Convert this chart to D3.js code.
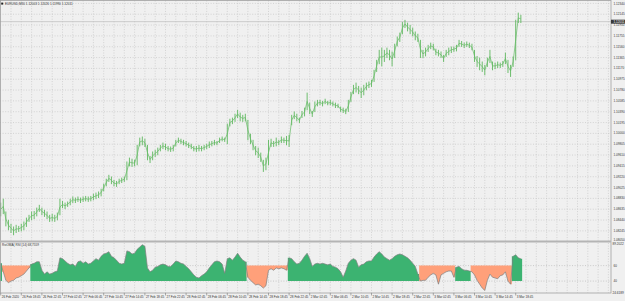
<!DOCTYPE html>
<meta charset="utf-8">
<style>
body { margin: 0; background: #f0f0f0; overflow: hidden; }
text { font-family: "Liberation Sans", Arial, sans-serif; font-size: 3.1px; fill: #333; }
</style>
<body>
<script src="https://cdnjs.cloudflare.com/ajax/libs/d3/7.8.5/d3.min.js"></script>
<script>
// chart data
var symbol = "EURUSD,M30";
var quote = [1.12003, 1.12026, 1.11990, 1.12011];   // title: open high low close
var lastClose = 1.12011;

var highs = [
  1.0875,1.0882,1.0859,1.0844,1.0837,1.0832,1.0835,1.0833,1.0837,1.0841,
  1.0848,1.0853,1.0859,1.0860,1.0866,1.0871,1.0866,1.0862,1.0859,1.0853,
  1.0855,1.0853,1.0857,1.0882,1.0878,1.0875,1.0877,1.0882,1.0886,1.0884,
  1.0886,1.0884,1.0886,1.0887,1.0886,1.0887,1.0891,1.0893,1.0895,1.0900,
  1.0909,1.0918,1.0925,1.0922,1.0916,1.0914,1.0918,1.0920,1.0922,1.0949,
  1.0956,1.0954,1.0952,1.0979,1.0992,1.0994,1.0990,1.0979,1.0959,1.0967,
  1.0970,1.0974,1.0979,1.0983,1.0981,1.0977,1.0976,1.0979,1.0988,1.0992,
  1.0990,1.0988,1.0986,1.0983,1.0981,1.0977,1.0977,1.0979,1.0977,1.0979,
  1.0981,1.0985,1.0986,1.0988,1.0986,1.0992,1.0994,1.0992,1.1017,1.1026,
  1.1028,1.1035,1.1042,1.1037,1.1033,1.1035,1.1024,1.0999,1.0988,1.0977,
  1.0974,1.0965,1.0952,1.0956,1.0988,1.0990,1.0986,1.0992,1.0988,1.0994,
  1.0992,1.0995,1.0997,1.1033,1.1039,1.1035,1.1028,1.1040,1.1046,1.1073,
  1.1055,1.1040,1.1057,1.1060,1.1060,1.1058,1.1062,1.1058,1.1060,1.1057,
  1.1055,1.1053,1.1048,1.1046,1.1044,1.1060,1.1074,1.1087,1.1091,1.1085,
  1.1082,1.1087,1.1091,1.1093,1.1096,1.1114,1.1132,1.1150,1.1154,1.1150,
  1.1154,1.1150,1.1147,1.1161,1.1174,1.1181,1.1200,1.1204,1.1199,1.1195,
  1.1190,1.1183,1.1179,1.1168,1.1150,1.1154,1.1159,1.1163,1.1161,1.1152,
  1.1150,1.1147,1.1141,1.1150,1.1154,1.1156,1.1156,1.1159,1.1168,1.1166,
  1.1163,1.1165,1.1163,1.1161,1.1150,1.1139,1.1136,1.1129,1.1123,1.1136,
  1.1150,1.1129,1.1127,1.1129,1.1127,1.1130,1.1145,1.1132,1.1123,1.1138,
  1.1204,1.1217,1.1213
];
var lows = [
  1.0851,1.0855,1.0833,1.0826,1.0821,1.0817,1.0821,1.0823,1.0824,1.0826,
  1.0832,1.0841,1.0844,1.0846,1.0851,1.0859,1.0853,1.0850,1.0846,1.0841,
  1.0842,1.0841,1.0844,1.0853,1.0866,1.0864,1.0868,1.0871,1.0875,1.0875,
  1.0877,1.0875,1.0877,1.0878,1.0877,1.0878,1.0880,1.0882,1.0884,1.0887,
  1.0896,1.0905,1.0913,1.0909,1.0905,1.0904,1.0909,1.0911,1.0913,1.0916,
  1.0941,1.0940,1.0941,1.0943,1.0977,1.0979,1.0976,1.0952,1.0947,1.0952,
  1.0958,1.0961,1.0968,1.0972,1.0970,1.0968,1.0967,1.0968,1.0977,1.0983,
  1.0981,1.0979,1.0977,1.0974,1.0972,1.0968,1.0967,1.0968,1.0968,1.0970,
  1.0972,1.0974,1.0977,1.0979,1.0979,1.0983,1.0986,1.0985,1.0981,1.1013,
  1.1017,1.1021,1.1028,1.1022,1.1021,1.1022,1.0988,1.0981,1.0970,1.0961,
  1.0956,1.0949,1.0931,1.0934,1.0943,1.0976,1.0976,1.0977,1.0979,1.0983,
  1.0983,1.0979,1.0976,1.1015,1.1026,1.1022,1.1019,1.1028,1.1031,1.1042,
  1.1035,1.1030,1.1039,1.1049,1.1051,1.1049,1.1053,1.1051,1.1051,1.1049,
  1.1046,1.1046,1.1039,1.1037,1.1035,1.1039,1.1057,1.1071,1.1074,1.1071,
  1.1064,1.1069,1.1078,1.1082,1.1084,1.1093,1.1111,1.1125,1.1121,1.1129,
  1.1136,1.1132,1.1121,1.1136,1.1157,1.1165,1.1179,1.1190,1.1184,1.1179,
  1.1175,1.1168,1.1165,1.1136,1.1136,1.1139,1.1147,1.1152,1.1150,1.1141,
  1.1139,1.1136,1.1129,1.1138,1.1141,1.1145,1.1147,1.1148,1.1156,1.1156,
  1.1154,1.1156,1.1154,1.1150,1.1129,1.1120,1.1114,1.1111,1.1105,1.1120,
  1.1127,1.1114,1.1116,1.1118,1.1118,1.1120,1.1125,1.1109,1.1102,1.1120,
  1.1132,1.1199,1.1199
];

var rsiName = "RsiOMA( RSI (14)";
var rsi = [
  63,52,41,38,40,41,44,45,47,49, 53,57,62,63,65,65,54,49,52,49,
  50,52,53,70,69,66,63,61,62,59, 65,66,63,65,62,63,66,69,67,72,
  75,76,78,72,70,67,63,62,63,79, 78,75,76,81,84,87,85,57,52,54,
  58,59,61,62,61,59,59,62,66,65, 63,62,59,56,52,48,45,44,47,49,
  52,57,61,65,66,65,62,50,69,70, 67,71,76,71,67,65,45,41,38,35,
  36,34,31,34,54,56,54,57,56,57, 56,54,70,69,65,62,63,67,72,76,
  69,59,62,63,62,63,62,61,62,59, 58,56,52,45,53,63,67,69,67,58,
  61,62,65,66,66,71,75,78,75,71, 69,67,69,72,74,75,74,72,70,67,
  63,59,49,40,41,41,45,48,50,48, 36,48,50,52,53,53,45,58,59,56,
  54,54,53,52,48,41,36,31,28,41, 49,45,44,43,47,48,52,40,36,72,
  74,70,68.7559
];
// bar ranges where the indicator is in its "down" state (salmon fill)
var bearZones = [[1, 11], [96, 111], [163, 176], [183, 198]];
var levels = [60, 40];
var rsiMax = 89.2022, rsiMin = 24.6189;

var priceTicks = [1.12340, 1.12145, 1.11950, 1.11755, 1.11560, 1.11365, 1.11170, 1.10975,
  1.10780, 1.10585, 1.10390, 1.10195, 1.10000, 1.09805, 1.09610, 1.09415, 1.09220,
  1.09025, 1.08830, 1.08635, 1.08440, 1.08245, 1.08050];
var timeLabels = ["26 Feb 2020", "26 Feb 18:45", "26 Feb 22:45", "27 Feb 02:45", "27 Feb 06:45",
  "27 Feb 10:45", "27 Feb 14:45", "27 Feb 18:45", "27 Feb 22:45", "28 Feb 02:45", "28 Feb 06:45",
  "28 Feb 10:45", "28 Feb 14:45", "28 Feb 18:45", "28 Feb 22:45", "2 Mar 02:45", "2 Mar 06:45",
  "2 Mar 10:45", "2 Mar 14:45", "2 Mar 18:45", "2 Mar 22:45", "3 Mar 02:45", "3 Mar 06:45",
  "3 Mar 10:45", "3 Mar 14:45", "3 Mar 18:45"];
var barsPerLabel = 8, barsPerGrid = 4;

// layout
var W = 625, H = 301, right = 611;
var mainTop = 0.5, mainBottom = 240.5, subTop = 243, subBottom = 293;
var n = highs.length;

var svg = d3.select("body").append("svg")
    .attr("width", W).attr("height", H);

var x = d3.scaleLinear().domain([0, n - 1]).range([0.7, 0.7 + 2.575 * (n - 1)]);
var y = d3.scaleLinear().domain([priceTicks[0], priceTicks[priceTicks.length - 1]]).range([3.4, 241.7]);
var yr = d3.scaleLinear().domain([rsiMax, rsiMin]).range([subTop, subBottom]);

// vertical grid, both panes
var gridIdx = d3.range(0, Math.ceil(x.invert(right)), barsPerGrid);
var grid = svg.append("g").attr("stroke", "#c6c6c6").attr("stroke-dasharray", "1,1.6").attr("stroke-width", 0.7);
gridIdx.forEach(function(i) {
  if (x(i) < 1 || x(i) > right - 1) return;
  grid.append("line").attr("x1", x(i)).attr("x2", x(i)).attr("y1", mainTop).attr("y2", mainBottom);
  grid.append("line").attr("x1", x(i)).attr("x2", x(i)).attr("y1", subTop).attr("y2", subBottom);
});
priceTicks.forEach(function(p) {
  if (y(p) > mainBottom - 1) return;
  grid.append("line").attr("x1", 0).attr("x2", right).attr("y1", y(p)).attr("y2", y(p));
});

// bid line
svg.append("line").attr("x1", 0).attr("x2", right)
    .attr("y1", y(lastClose)).attr("y2", y(lastClose))
    .attr("stroke", "#c2c2c2").attr("stroke-width", 0.8);

// candles: thin high-low strokes, joined bar to bar so the run reads as one line
var cg = svg.append("g").attr("stroke", "#66ba66");
cg.append("path")
    .attr("d", d3.line()
        .x(function(d, i) { return x(i); })
        .y(function(d, i) { return y((d + lows[i]) / 2); })(highs))
    .attr("fill", "none").attr("stroke-width", 0.7);
cg.selectAll("line").data(highs).join("line")
    .attr("x1", function(d, i) { return x(i); })
    .attr("x2", function(d, i) { return x(i); })
    .attr("y1", function(d) { return y(d) - 0.2; })
    .attr("y2", function(d, i) { return y(lows[i]) + 0.2; })
    .attr("stroke-width", 0.95);

// indicator levels
levels.forEach(function(l) {
  svg.append("line").attr("x1", 0).attr("x2", right).attr("y1", yr(l)).attr("y2", yr(l))
      .attr("stroke", "#b8b8b8").attr("stroke-width", 0.7).attr("stroke-dasharray", "1,1.6");
});

// indicator fills: green from 40 up, salmon from 60 down
var bear = rsi.map(function(d, i) {
  return bearZones.some(function(z) { return i >= z[0] && i <= z[1]; });
});
var segs = [], start = 0;
for (var i = 1; i <= n; i++) {
  if (i == n || bear[i] != bear[start]) { segs.push([start, i - 1, bear[start]]); start = i; }
}
var area = d3.area()
    .x(function(d) { return x(d.i); })
    .y0(function(d) { return yr(d.base); })
    .y1(function(d) { return yr(d.v); });
segs.forEach(function(s) {
  var base = s[2] ? levels[0] : levels[1];
  var pts = [{i: s[0] - 0.5, v: rsi[s[0]], base: base}];
  for (var j = s[0]; j <= s[1]; j++) pts.push({i: j, v: rsi[j], base: base});
  pts.push({i: s[1] + 0.5, v: rsi[s[1]], base: base});
  svg.append("path").attr("d", area(pts))
      .attr("fill", s[2] ? "#ffa07a" : "#3cb371");
});
svg.append("path")
    .attr("d", d3.line().x(function(d, i) { return x(i); }).y(function(d) { return yr(d); })(rsi))
    .attr("fill", "none").attr("stroke", "#808080").attr("stroke-width", 0.7);

// frames and separator
svg.append("rect").attr("x", 0.5).attr("y", mainTop).attr("width", right - 0.5).attr("height", subBottom - mainTop)
    .attr("fill", "none").attr("stroke", "#a0a0a0").attr("stroke-width", 0.8);
svg.append("rect").attr("x", 0).attr("y", mainBottom).attr("width", right).attr("height", subTop - mainBottom - 0.5)
    .attr("fill", "#b4b4b4");

// price scale
svg.append("g").selectAll("text").data(priceTicks).join("text")
    .attr("x", 613.5).attr("y", function(d) { return Math.min(y(d), 239.5) + 1.1; })
    .text(function(d) { return d.toFixed(5); });
svg.append("rect").attr("x", right).attr("y", y(lastClose) - 2).attr("width", 14).attr("height", 4)
    .attr("fill", "#3a3a3a");
svg.append("text").attr("x", 613.5).attr("y", y(lastClose) + 1.1).style("fill", "#fff")
    .text(lastClose.toFixed(5));

// indicator scale
svg.append("text").attr("x", 612.5).attr("y", subTop + 2.2).text(rsiMax.toFixed(4));
levels.forEach(function(l) {
  svg.append("text").attr("x", 613.5).attr("y", yr(l) + 1.1).text(l);
});
svg.append("text").attr("x", 612.5).attr("y", subBottom + 0.5).text(rsiMin.toFixed(4));

// time axis
var tAxis = svg.append("g");
timeLabels.forEach(function(t, k) {
  var tx = x(k * barsPerLabel);
  tAxis.append("line").attr("x1", tx).attr("x2", tx).attr("y1", subBottom).attr("y2", subBottom + 2.5)
      .attr("stroke", "#777").attr("stroke-width", 0.6);
  tAxis.append("text").attr("x", tx + 1).attr("y", subBottom + 5).text(t);
});

// titles
svg.append("rect").attr("x", 1.2).attr("y", 2.6).attr("width", 2).attr("height", 2).attr("fill", "#222");
svg.append("text").attr("x", 5).attr("y", 4.9)
    .text(symbol + " " + quote.map(function(q) { return q.toFixed(5); }).join(" "));
svg.append("text").attr("x", 2).attr("y", subTop + 2.6)
    .text(rsiName + " " + rsi[n - 1].toFixed(4));
</script>
</body>
